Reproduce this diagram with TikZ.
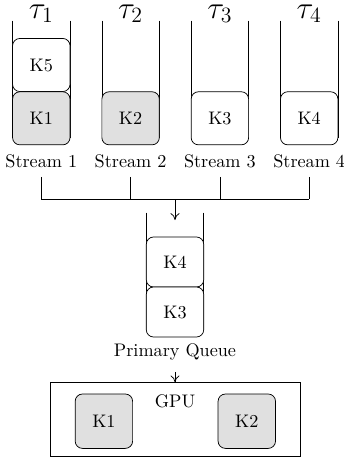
\documentclass[tikz,border=0pt]{standalone}
\usetikzlibrary{calc,arrows.meta}
\definecolor{kgray}{gray}{0.88}
\begin{document}
\begin{tikzpicture}[x=0.55pt,y=-0.55pt,
  kbox/.style={draw, fill=white, rounded corners=4pt, minimum width=31.6pt, minimum height=29.2pt, inner sep=0pt},
  qbox/.style={kbox, minimum height=27.5pt},
  gbox/.style={kbox, minimum height=29.9pt},
  busy/.style={fill=kgray},
  lab/.style={anchor=base, inner sep=0pt},
  colline/.style={draw},
  conn/.style={draw},
  arr/.style={draw, -{To[length=3.8pt,width=5pt]}}]
\useasboundingbox (0,0) rectangle (344,459);

% stream columns
\foreach \c in {41.3,130.6,219.9,309.2}{
  \draw[colline] (\c-28.7,20.7) -- (\c-28.7,138);
  \draw[colline] (\c+28.7,20.7) -- (\c+28.7,138);
}
% primary queue column
\draw[colline] (146.3,212.7) -- (146.3,330);
\draw[colline] (203.7,212.7) -- (203.7,330);

% tau labels
\node[lab] (t1) at (41.3,18) {\LARGE$\tau_1$};
\node[lab] (t2) at (130.6,18) {\LARGE$\tau_2$};
\node[lab] (t3) at (219.9,18) {\LARGE$\tau_3$};
\node[lab] (t4) at (309.2,18) {\LARGE$\tau_4$};

% stream kernels
\node[kbox] (k5) at (41.3,65) {K5};
\node[kbox,busy] (k1) at (41.3,118.3) {K1};
\node[kbox,busy] (k2) at (130.6,118.3) {K2};
\node[kbox] (k3) at (219.9,118.3) {K3};
\node[kbox] (k4) at (309.2,118.3) {K4};

% stream labels
\node[lab] (s1) at (41.3,167.3) {Stream 1};
\node[lab] (s2) at (130.6,167.3) {Stream 2};
\node[lab] (s3) at (219.9,167.3) {Stream 3};
\node[lab] (s4) at (309.2,167.3) {Stream 4};

% merge connectors
\coordinate (b1) at (41.3,199);
\coordinate (b2) at (130.6,199);
\coordinate (b3) at (219.9,199);
\coordinate (b4) at (309.2,199);
\coordinate (j) at (175,199);
\coordinate (q) at (175,220);
\draw[conn, shorten <=4.8pt] (s1.south) -- (b1);
\draw[conn, shorten <=4.8pt] (s2.south) -- (b2);
\draw[conn, shorten <=4.8pt] (s3.south) -- (b3);
\draw[conn, shorten <=4.8pt] (s4.south) -- (b4);
\draw[conn] (b1) -- (b4);
\draw[arr] (j) -- (q);

% primary queue
\node[qbox] (p4) at (175,262) {K4};
\node[qbox] (p3) at (175,312) {K3};
\node[lab] (pq) at (175,356) {Primary Queue};

% GPU
\node[draw, minimum width=137.2pt, minimum height=40.7pt, inner sep=0pt] (gpu) at (175.25,419.7) {};
\node[lab] (gl) at (175,407.7) {GPU};
\node[gbox,busy] (g1) at (103.9,421.2) {K1};
\node[gbox,busy] (g2) at (246.8,421.2) {K2};

\draw[arr, shorten <=6.5pt] (pq.south) -- (pq.south |- gpu.north);
\end{tikzpicture}
\end{document}
